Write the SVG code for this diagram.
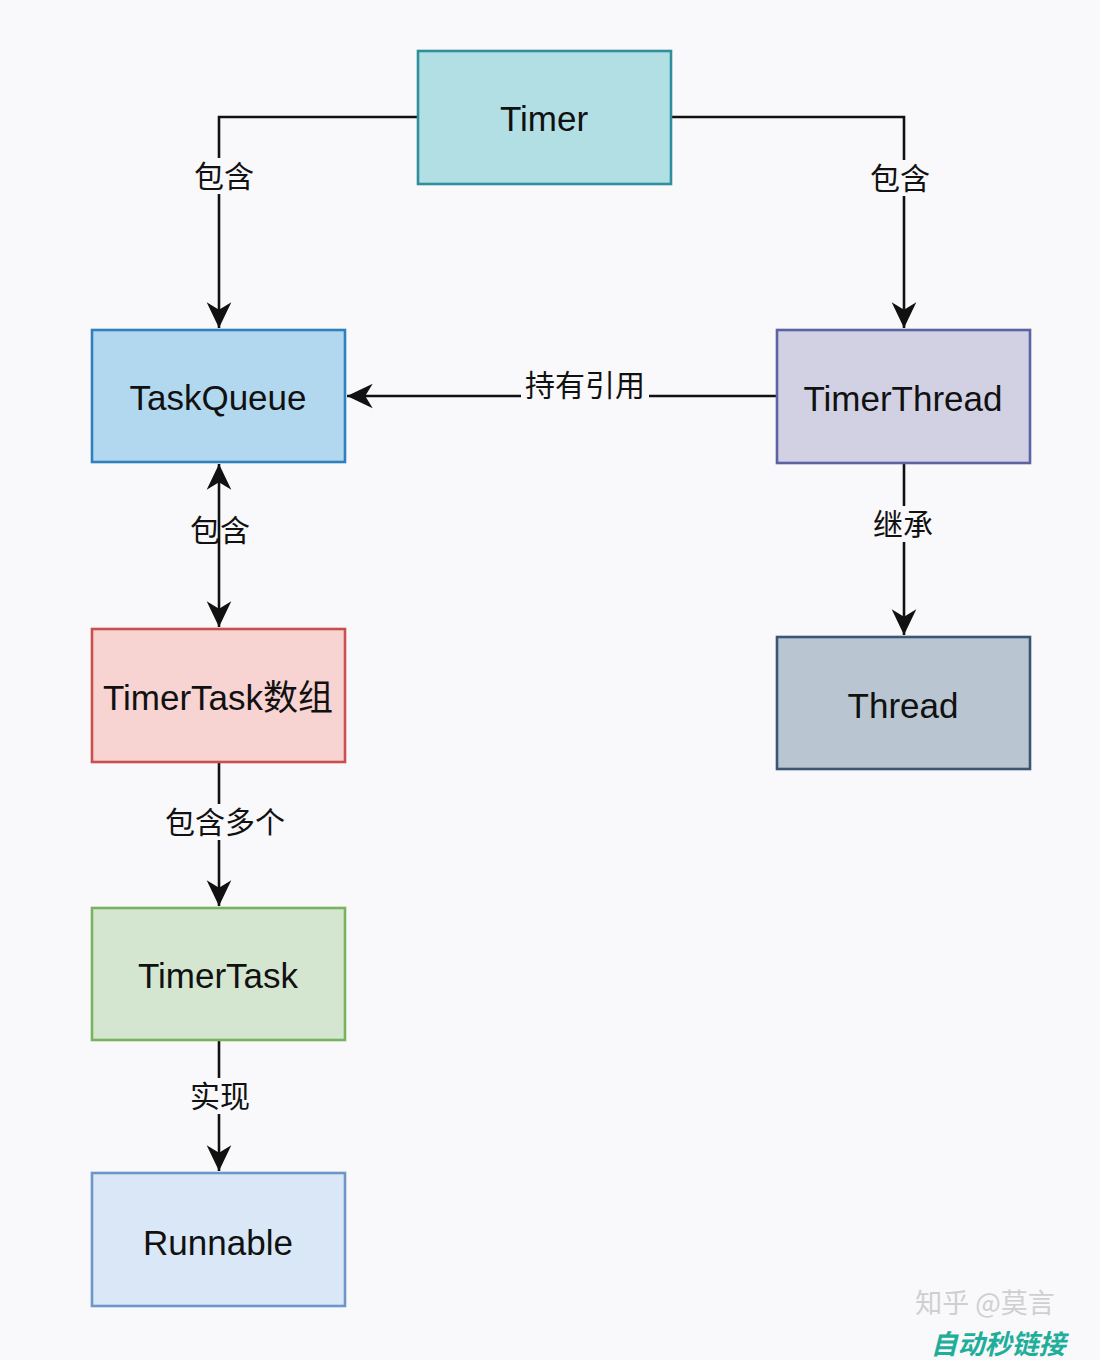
<svg xmlns="http://www.w3.org/2000/svg" width="1100" height="1360" viewBox="0 0 1100 1360">
<style>
.box{stroke-width:2.6}
.lbl{font-family:"Liberation Sans","Noto Sans CJK SC",sans-serif;font-size:35px;fill:#111;text-anchor:middle}
.el{font-family:"Noto Sans CJK SC","Liberation Sans",sans-serif;font-size:30px;fill:#111;text-anchor:middle}
.ln{fill:none;stroke:#111;stroke-width:2.6}
.bg{fill:#f9f8fb}
</style>
<defs>
<marker id="ah" markerUnits="userSpaceOnUse" markerWidth="30" markerHeight="30" viewBox="-26 -14 28 28" refX="0" refY="0" orient="auto-start-reverse">
<path d="M0,0 L-24,-11.5 L-17,0 L-24,11.5 Z" fill="#111"/>
</marker>
</defs>
<rect width="1100" height="1360" fill="#f9f8fb"/>
<g id="connectors">
<path class="ln" d="M418,117 H219 V328" marker-end="url(#ah)"/>
<rect class="bg" x="193" y="158" width="60" height="36"/>
<text class="el" x="224" y="187">包含</text>
<path class="ln" d="M671,117 H904 V328" marker-end="url(#ah)"/>
<rect class="bg" x="870" y="160" width="60" height="36"/>
<text class="el" x="900" y="189">包含</text>
<path class="ln" d="M777,396 H347" marker-end="url(#ah)"/>
<rect class="bg" x="521" y="368" width="128" height="34"/>
<text class="el" x="585" y="396">持有引用</text>
<path class="ln" d="M219,464 V627" marker-start="url(#ah)" marker-end="url(#ah)"/>
<text class="el" x="220" y="541">包含</text>
<path class="ln" d="M904,463 V635" marker-end="url(#ah)"/>
<rect class="bg" x="872" y="506" width="62" height="36"/>
<text class="el" x="903" y="535">继承</text>
<path class="ln" d="M219,762 V906" marker-end="url(#ah)"/>
<rect class="bg" x="164" y="804" width="124" height="36"/>
<text class="el" x="225" y="833">包含多个</text>
<path class="ln" d="M219,1040 V1171" marker-end="url(#ah)"/>
<rect class="bg" x="189" y="1078" width="62" height="36"/>
<text class="el" x="220" y="1107">实现</text>
</g>
<g id="timer">
<rect class="box" x="418" y="51" width="253" height="133" fill="#b1dfe4" stroke="#2f8f9d"/>
<text class="lbl" x="544" y="131">Timer</text>
</g>
<g id="taskqueue">
<rect class="box" x="92" y="330" width="253" height="132" fill="#b1d8ee" stroke="#2f80bd"/>
<text class="lbl" x="218" y="410">TaskQueue</text>
</g>
<g id="timerthread">
<rect class="box" x="777" y="330" width="253" height="133" fill="#d1d1e3" stroke="#5d62a0"/>
<text class="lbl" x="903" y="411">TimerThread</text>
</g>
<g id="thread">
<rect class="box" x="777" y="637" width="253" height="132" fill="#b9c5d0" stroke="#3b5675"/>
<text class="lbl" x="903" y="718">Thread</text>
</g>
<g id="timertask-array">
<rect class="box" x="92" y="629" width="253" height="133" fill="#f7d3d2" stroke="#c9504d"/>
<text class="lbl" x="218" y="710">TimerTask数组</text>
</g>
<g id="timertask">
<rect class="box" x="92" y="908" width="253" height="132" fill="#d4e6cf" stroke="#7ab35f"/>
<text class="lbl" x="218" y="988">TimerTask</text>
</g>
<g id="runnable">
<rect class="box" x="92" y="1173" width="253" height="133" fill="#d9e7f7" stroke="#6d97c8"/>
<text class="lbl" x="218" y="1255">Runnable</text>
</g>
<g id="watermark">
<text x="985" y="1313" font-family="Noto Sans CJK SC,sans-serif" font-size="27" fill="#cfcfcf" text-anchor="middle">知乎 @莫言</text>
<text x="998" y="1354" font-family="Noto Sans CJK SC,sans-serif" font-size="27" font-weight="bold" font-style="italic" fill="#1eae99" text-anchor="middle">自动秒链接</text>
</g>
</svg>
